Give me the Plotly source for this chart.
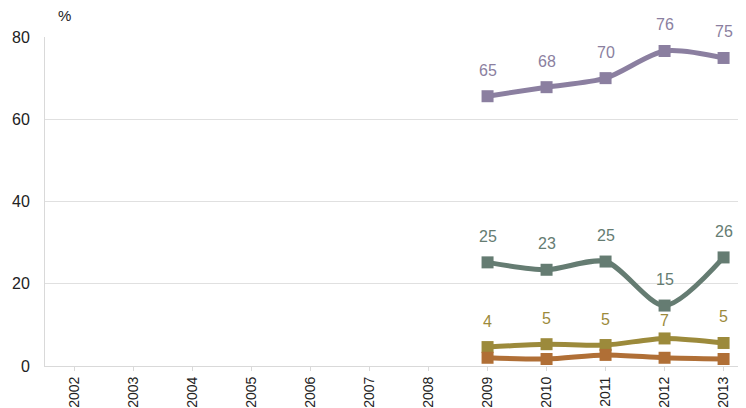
import plotly.graph_objects as go

years = [str(y) for y in range(2002, 2014)]
data_years = ["2009", "2010", "2011", "2012", "2013"]

purple = [65.6, 67.8, 70.0, 76.6, 74.9]
purple_labels = ["65", "68", "70", "76", "75"]
green = [25.2, 23.4, 25.4, 14.7, 26.4]
green_labels = ["25", "23", "25", "15", "26"]
olive = [4.6, 5.3, 5.1, 6.7, 5.6]
olive_labels = ["4", "5", "5", "7", "5"]
orange = [2.0, 1.7, 2.7, 2.0, 1.7]

series = [
    ("purple", purple, purple_labels, "#8b7fa0"),
    ("green", green, green_labels, "#657c72"),
    ("olive", olive, olive_labels, "#9c8a3b"),
    ("orange", orange, None, "#b06f36"),
]

# label offset tweaks (pixels above point), default 26
label_shift = {("olive", "2012"): 18}

FONT = "Liberation Sans, Arial, sans-serif"

fig = go.Figure()
# invisible trace to fix category order
fig.add_trace(go.Scatter(x=years, y=[None] * len(years), mode="lines",
                         showlegend=False, hoverinfo="skip"))

annotations = []
for name, vals, labels, color in series:
    fig.add_trace(go.Scatter(
        x=data_years, y=vals, mode="lines+markers", name=name,
        line=dict(color=color, width=5, shape="spline", smoothing=0.8),
        marker=dict(symbol="square", size=12, color=color),
        showlegend=False,
    ))
    if labels:
        for xv, yv, t in zip(data_years, vals, labels):
            annotations.append(dict(
                x=years.index(xv), y=yv, xref="x", yref="y",
                text=t, showarrow=False,
                yshift=label_shift.get((name, xv), 26),
                font=dict(family=FONT, size=16, color=color),
            ))

annotations.append(dict(
    xref="paper", yref="paper", x=0.0285, y=1.064,
    xanchor="center", yanchor="middle",
    text="%", showarrow=False, font=dict(family=FONT, size=15, color="#222"),
))

fig.update_layout(
    width=738, height=400,
    margin=dict(l=37, r=0, t=29, b=42, autoexpand=False),
    paper_bgcolor="white", plot_bgcolor="white",
    annotations=annotations,
    font=dict(family=FONT, color="#222"),
    xaxis=dict(
        type="category", categoryorder="array", categoryarray=years,
        range=[-0.5, 11.38], tickangle=-90, tickfont=dict(size=14),
        showgrid=False, showline=True, linecolor="#d9d9d9", linewidth=1,
        ticks="outside", ticklen=4, tickcolor="#d9d9d9", automargin=False,
    ),
    yaxis=dict(
        range=[0, 80], tickvals=[0, 20, 40, 60, 80], tickfont=dict(size=16),
        showgrid=True, gridcolor="#e0e0e0", gridwidth=1,
        showline=True, linecolor="#d9d9d9", zeroline=False,
        ticks="", ticklabelstandoff=11, automargin=False,
    ),
)

fig.write_html("out.html")
